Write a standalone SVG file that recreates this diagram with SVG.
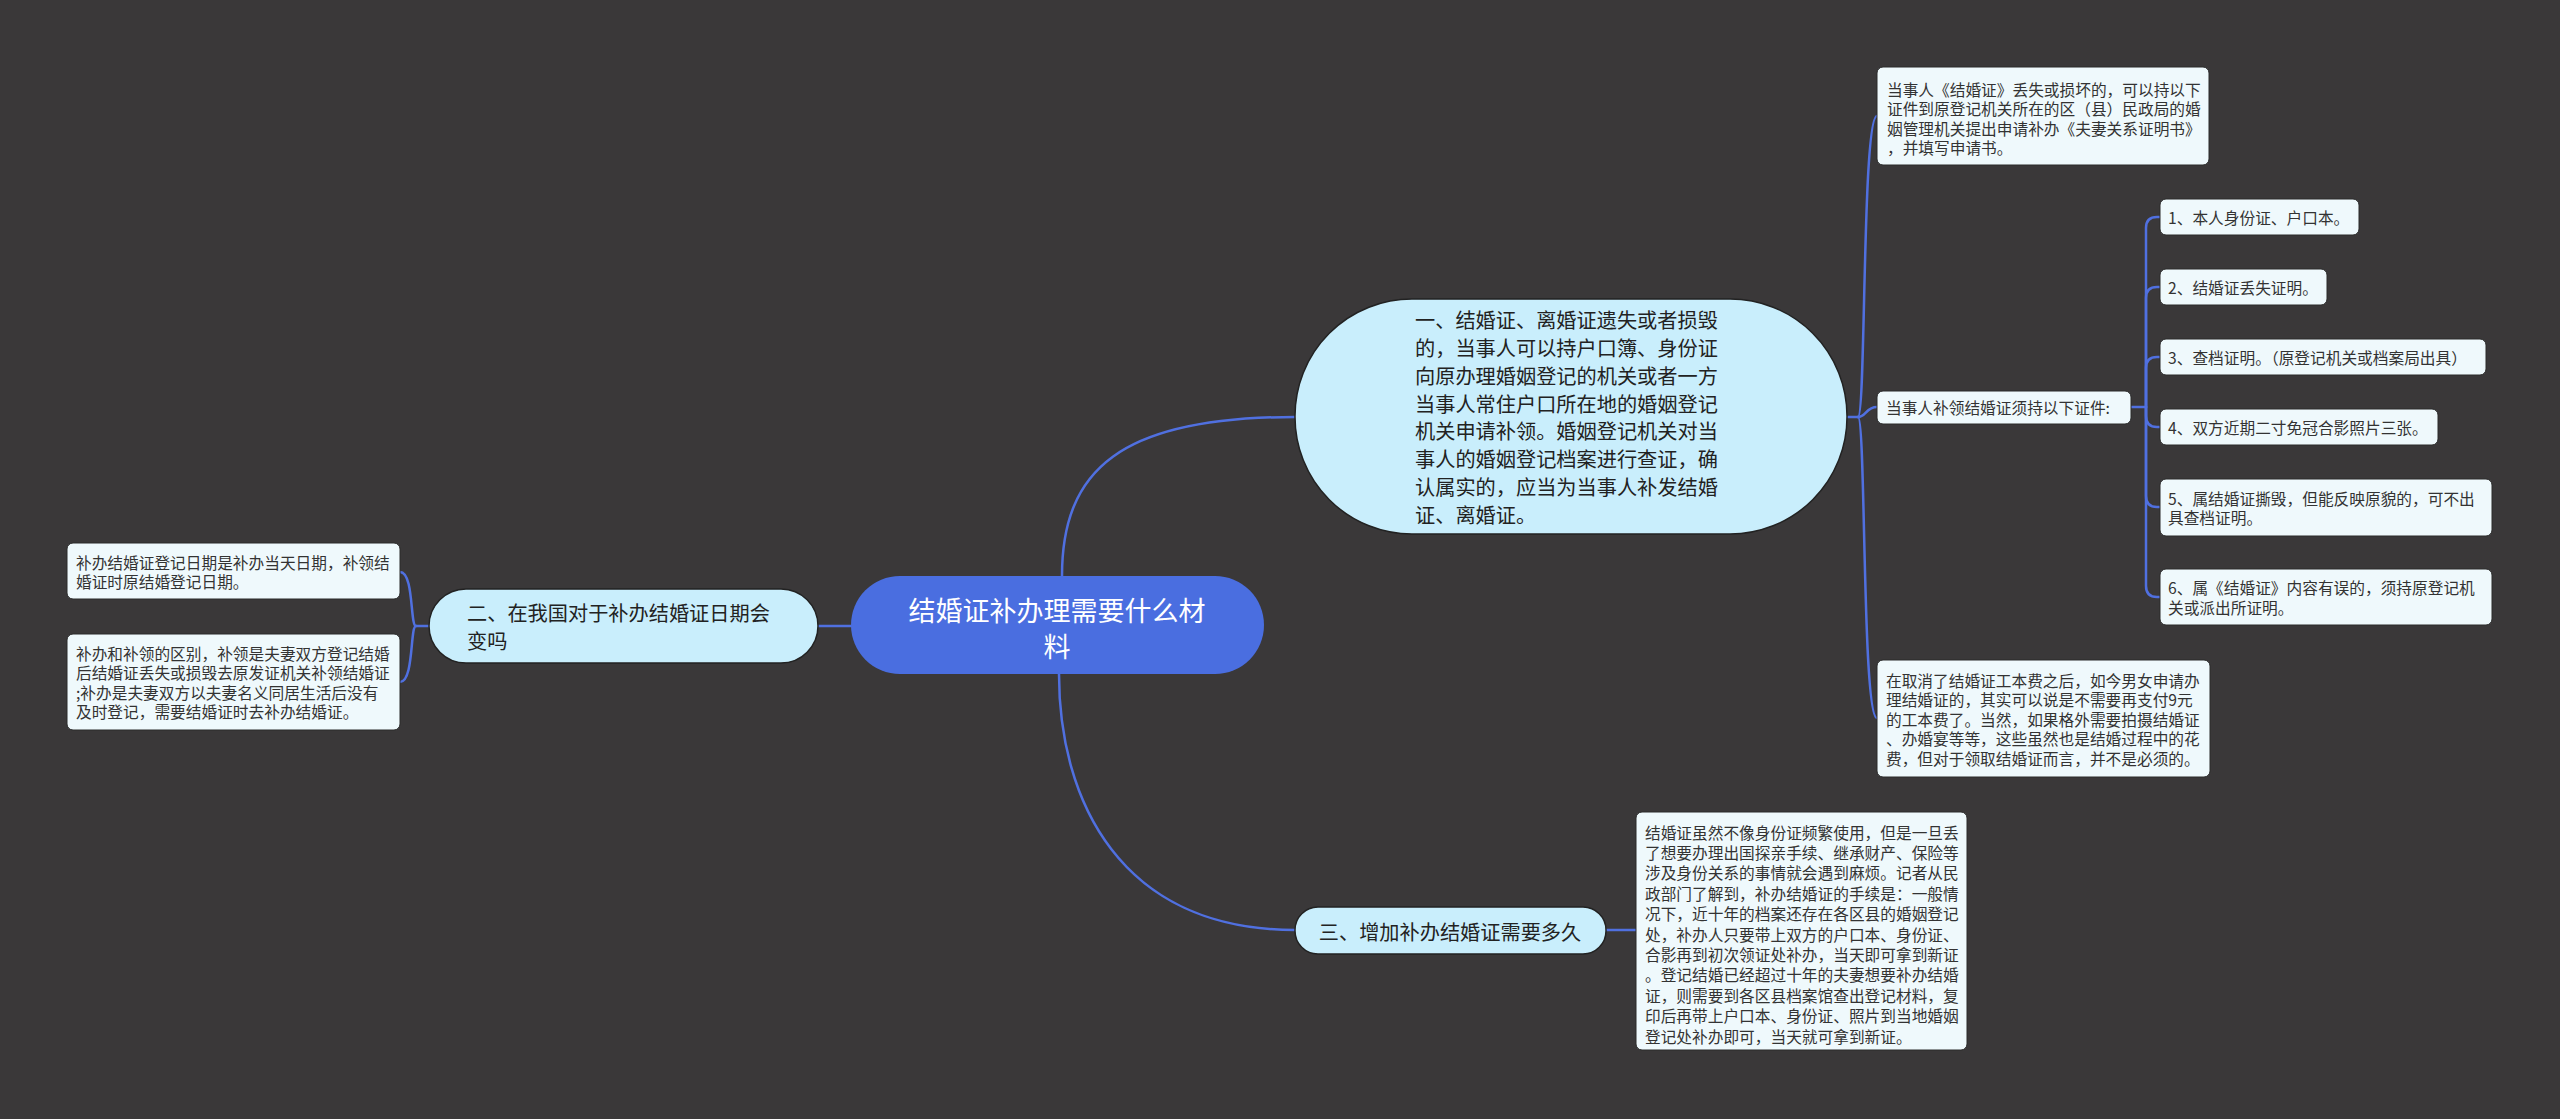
<svg xmlns="http://www.w3.org/2000/svg" width="2560" height="1119" viewBox="0 0 2560 1119">
<style>
.bg{fill:#3a3839}
.conn{fill:none;stroke:#5070e0;stroke-width:2.5;stroke-linecap:round}
.root{fill:#4a6ee0}
.br{fill:#c9eefc;stroke:#222;stroke-width:1.5}
.leaf{fill:#eff9fc;stroke:#2a2a2a;stroke-width:1}
text{font-family:"Noto Sans CJK SC","Noto Sans",sans-serif;dominant-baseline:central}
.rt{fill:#ffffff;font-size:27px;text-anchor:middle}
.bt{fill:#222;font-size:20.2px}
.lt{fill:#333;font-size:15.7px}
</style>
<rect class="bg" x="0" y="0" width="2560" height="1119"/>
<g id="connectors">
<path class="conn" d="M1062,576 C1062,470 1120,417 1295,417"/>
<path class="conn" d="M1059,674 C1059,800 1120,930 1295,930"/>
<path class="conn" d="M851,626 H818"/>
<path class="conn" d="M1605,930 H1636"/>
<path class="conn" d="M429,626 H416"/>
<path class="conn" d="M416,626 C410,626 414,572 400,572"/>
<path class="conn" d="M416,626 C410,626 414,682 400,682"/>
<path class="conn" d="M1848,417 H1858"/>
<path class="conn" d="M1858,417 C1866,417 1862,116 1877,116"/>
<path class="conn" d="M1858,417 C1866,417 1866,407 1877,407"/>
<path class="conn" d="M1858,417 C1866,417 1862,718 1877,718"/>
<path class="conn" d="M2131,407 H2146"/>
<path class="conn" d="M2146,407 V228 Q2146,217 2157,217 H2160"/>
<path class="conn" d="M2146,407 V298 Q2146,287 2157,287 H2160"/>
<path class="conn" d="M2146,407 V368 Q2146,357 2157,357 H2160"/>
<path class="conn" d="M2146,407 V416 Q2146,427 2157,427 H2160"/>
<path class="conn" d="M2146,407 V496 Q2146,507 2157,507 H2160"/>
<path class="conn" d="M2146,407 V586 Q2146,597 2157,597 H2160"/>
</g>
<g id="root">
<rect class="root" x="851" y="576" width="413" height="98" rx="49"/>
<text class="rt" x="1057" y="609">结婚证补办理需要什么材</text>
<text class="rt" x="1057" y="645">料</text>
</g>
<g id="b1">
<rect class="br" x="1295" y="299" width="552" height="235" rx="117"/>
<text class="bt" x="1415" y="319">一、结婚证、离婚证遗失或者损毁</text>
<text class="bt" x="1415" y="347">的，当事人可以持户口簿、身份证</text>
<text class="bt" x="1415" y="375">向原办理婚姻登记的机关或者一方</text>
<text class="bt" x="1415" y="403">当事人常住户口所在地的婚姻登记</text>
<text class="bt" x="1415" y="430">机关申请补领。婚姻登记机关对当</text>
<text class="bt" x="1415" y="458">事人的婚姻登记档案进行查证，确</text>
<text class="bt" x="1415" y="486">认属实的，应当为当事人补发结婚</text>
<text class="bt" x="1415" y="514">证、离婚证。</text>
</g>
<g id="b2">
<rect class="br" x="429" y="589" width="389" height="74" rx="37"/>
<text class="bt" x="467" y="612">二、在我国对于补办结婚证日期会</text>
<text class="bt" x="467" y="640">变吗</text>
</g>
<g id="b3">
<rect class="br" x="1295" y="907" width="311" height="47" rx="23"/>
<text class="bt" x="1450" y="931" text-anchor="middle">三、增加补办结婚证需要多久</text>
</g>
<g id="l-top">
<rect class="leaf" x="1877" y="67" width="332" height="98" rx="6"/>
<text class="lt" x="1887" y="89">当事人《结婚证》丢失或损坏的，可以持以下</text>
<text class="lt" x="1887" y="108.5">证件到原登记机关所在的区（县）民政局的婚</text>
<text class="lt" x="1887" y="128">姻管理机关提出申请补办《夫妻关系证明书》</text>
<text class="lt" x="1887" y="147">，并填写申请书。</text>
</g>
<g id="l-mid">
<rect class="leaf" x="1877" y="391" width="254" height="33" rx="6"/>
<text class="lt" x="1886" y="407">当事人补领结婚证须持以下证件:</text>
</g>
<g id="i1">
<rect class="leaf" x="2160" y="199" width="199" height="36" rx="6"/>
<text class="lt" x="2168" y="217">1、本人身份证、户口本。</text>
</g>
<g id="i2">
<rect class="leaf" x="2160" y="269" width="167" height="36" rx="6"/>
<text class="lt" x="2168" y="287">2、结婚证丢失证明。</text>
</g>
<g id="i3">
<rect class="leaf" x="2160" y="339" width="326" height="36" rx="6"/>
<text class="lt" x="2168" y="357">3、查档证明。（原登记机关或档案局出具）</text>
</g>
<g id="i4">
<rect class="leaf" x="2160" y="409" width="278" height="36" rx="6"/>
<text class="lt" x="2168" y="427">4、双方近期二寸免冠合影照片三张。</text>
</g>
<g id="i5">
<rect class="leaf" x="2160" y="479" width="332" height="57" rx="6"/>
<text class="lt" x="2168" y="498">5、属结婚证撕毁，但能反映原貌的，可不出</text>
<text class="lt" x="2168" y="517.5">具查档证明。</text>
</g>
<g id="i6">
<rect class="leaf" x="2160" y="569" width="332" height="56" rx="6"/>
<text class="lt" x="2168" y="587.5">6、属《结婚证》内容有误的，须持原登记机</text>
<text class="lt" x="2168" y="607">关或派出所证明。</text>
</g>
<g id="l-fee">
<rect class="leaf" x="1877" y="660" width="333" height="117" rx="6"/>
<text class="lt" x="1886" y="680">在取消了结婚证工本费之后，如今男女申请办</text>
<text class="lt" x="1886" y="699.5">理结婚证的，其实可以说是不需要再支付9元</text>
<text class="lt" x="1886" y="719">的工本费了。当然，如果格外需要拍摄结婚证</text>
<text class="lt" x="1886" y="738.5">、办婚宴等等，这些虽然也是结婚过程中的花</text>
<text class="lt" x="1886" y="758">费，但对于领取结婚证而言，并不是必须的。</text>
</g>
<g id="l-b3">
<rect class="leaf" x="1636" y="812" width="331" height="238" rx="6"/>
<text class="lt" x="1645" y="832">结婚证虽然不像身份证频繁使用，但是一旦丢</text>
<text class="lt" x="1645" y="852.4">了想要办理出国探亲手续、继承财产、保险等</text>
<text class="lt" x="1645" y="872.8">涉及身份关系的事情就会遇到麻烦。记者从民</text>
<text class="lt" x="1645" y="893.2">政部门了解到，补办结婚证的手续是：一般情</text>
<text class="lt" x="1645" y="913.6">况下，近十年的档案还存在各区县的婚姻登记</text>
<text class="lt" x="1645" y="934">处，补办人只要带上双方的户口本、身份证、</text>
<text class="lt" x="1645" y="954.4">合影再到初次领证处补办，当天即可拿到新证</text>
<text class="lt" x="1645" y="974.8">。登记结婚已经超过十年的夫妻想要补办结婚</text>
<text class="lt" x="1645" y="995.2">证，则需要到各区县档案馆查出登记材料，复</text>
<text class="lt" x="1645" y="1015.6">印后再带上户口本、身份证、照片到当地婚姻</text>
<text class="lt" x="1645" y="1036">登记处补办即可，当天就可拿到新证。</text>
</g>
<g id="l-left1">
<rect class="leaf" x="67" y="543" width="333" height="56" rx="6"/>
<text class="lt" x="76" y="562">补办结婚证登记日期是补办当天日期，补领结</text>
<text class="lt" x="76" y="581.5">婚证时原结婚登记日期。</text>
</g>
<g id="l-left2">
<rect class="leaf" x="67" y="634" width="333" height="96" rx="6"/>
<text class="lt" x="76" y="653">补办和补领的区别，补领是夫妻双方登记结婚</text>
<text class="lt" x="76" y="672.5">后结婚证丢失或损毁去原发证机关补领结婚证</text>
<text class="lt" x="76" y="692">;补办是夫妻双方以夫妻名义同居生活后没有</text>
<text class="lt" x="76" y="711.5">及时登记，需要结婚证时去补办结婚证。</text>
</g>
</svg>
